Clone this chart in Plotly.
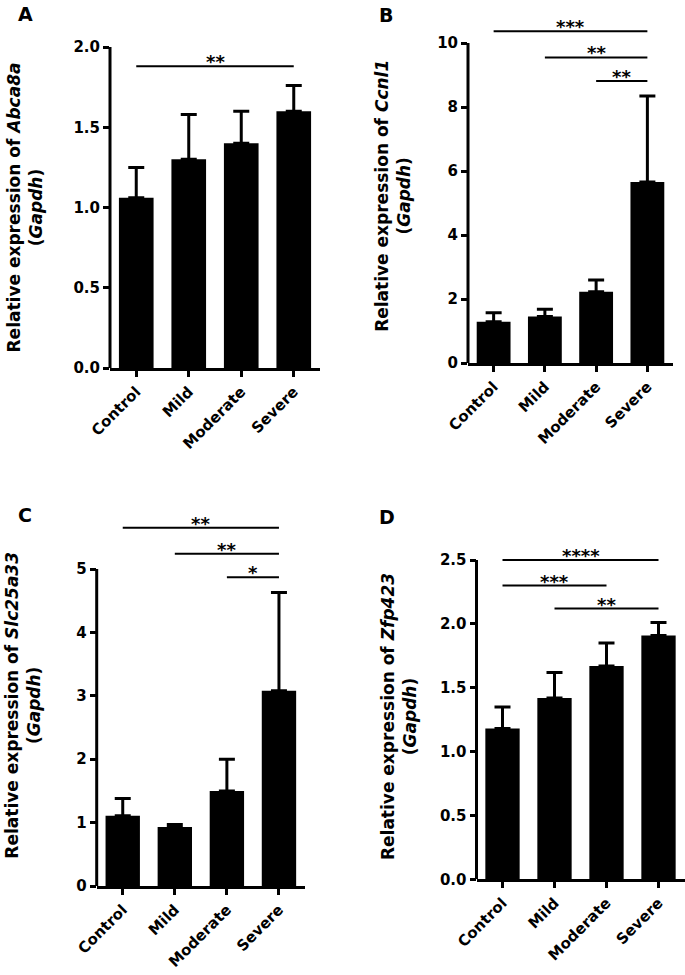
import plotly.graph_objects as go

categories = ["Control", "Mild", "Moderate", "Severe"]

# Panel A - Abca8a
a_mean = [1.06, 1.30, 1.40, 1.60]
a_sem = [0.19, 0.28, 0.20, 0.16]
a_sig_pairs = [(0, 3)]
a_sig_y = [1.88]
a_sig_text = ["**"]

# Panel B - Ccnl1
b_mean = [1.29, 1.45, 2.23, 5.66]
b_sem = [0.28, 0.23, 0.36, 2.68]
b_sig_pairs = [(0, 3), (1, 3), (2, 3)]
b_sig_y = [10.37, 9.55, 8.81]
b_sig_text = ["***", "**", "**"]

# Panel C - Slc25a33
c_mean = [1.11, 0.93, 1.50, 3.08]
c_sem = [0.27, 0.04, 0.50, 1.55]
c_sig_pairs = [(0, 3), (1, 3), (2, 3)]
c_sig_y = [5.65, 5.24, 4.87]
c_sig_text = ["**", "**", "*"]

# Panel D - Zfp423
d_mean = [1.18, 1.42, 1.67, 1.91]
d_sem = [0.17, 0.20, 0.18, 0.10]
d_sig_pairs = [(0, 3), (0, 2), (1, 3)]
d_sig_y = [2.50, 2.30, 2.12]
d_sig_text = ["****", "***", "**"]

genes = ["Abca8a", "Ccnl1", "Slc25a33", "Zfp423"]
panel_letters = ["A", "B", "C", "D"]
y_ticktop = [2.0, 10, 5, 2.5]          # last labelled tick (axis line ends here)
y_rangetop = [2.0, 10.45, 5.7, 2.55]   # room for significance bars
y_dticks = [0.5, 2, 1, 0.5]
y_formats = [".1f", "d", "d", ".1f"]

W, H = 685, 975
FONT = "DejaVu Sans"
YTICK_SIZE = 15
XTICK_SIZE = 15
TITLE_SIZE = 17

# layout geometry in pixels: (left, right, pixel of y=0, pixels per unit)
boxes = [(110, 320, 368, 160.5), (468, 673, 363, 32.0), (96.7, 305, 886, 63.4), (476.5, 684.5, 879.3, 127.7)]
standoffs = [26, 22, 31, 18]
letter_pos = [(16, 14), (377, 15), (16, 515), (377, 517)]

panels = [
    (a_mean, a_sem, a_sig_pairs, a_sig_y, a_sig_text),
    (b_mean, b_sem, b_sig_pairs, b_sig_y, b_sig_text),
    (c_mean, c_sem, c_sig_pairs, c_sig_y, c_sig_text),
    (d_mean, d_sem, d_sig_pairs, d_sig_y, d_sig_text),
]

fig = go.Figure()
annotations = []
shapes = []
layout_axes = {}

for k, (mean, sem, pairs, sig_y, sig_text) in enumerate(panels):
    n = k + 1
    xa = "x" if n == 1 else f"x{n}"
    ya = "y" if n == 1 else f"y{n}"
    fig.add_trace(go.Bar(
        x=categories, y=mean, xaxis=xa, yaxis=ya, width=0.66,
        marker=dict(color="black", line=dict(width=0)),
        error_y=dict(type="data", symmetric=False, array=sem, arrayminus=[0] * len(sem),
                     color="black", thickness=3, width=8),
        showlegend=False,
    ))
    for (i, j), yv, txt in zip(pairs, sig_y, sig_text):
        fig.add_trace(go.Scatter(
            x=[categories[i], categories[j]], y=[yv, yv], xaxis=xa, yaxis=ya,
            mode="lines", line=dict(color="black", width=2), cliponaxis=False,
            showlegend=False, hoverinfo="skip",
        ))
        annotations.append(dict(
            x=(i + j) / 2, y=yv, xref=xa, yref=ya, text=txt, showarrow=False,
            yanchor="bottom", yshift=-8, font=dict(family=FONT, size=18, color="black", weight="bold"),
        ))
    l, r, y0px, ppu = boxes[k]
    top_px = y0px - y_rangetop[k] * ppu
    key = "" if n == 1 else str(n)
    layout_axes["xaxis" + key] = dict(
        domain=[l / W, r / W], anchor=ya, type="category", range=[-0.5, 3.5],
        showline=True, linewidth=3, linecolor="black", ticks="outside", ticklen=6, tickwidth=3,
        tickcolor="black", tickangle=-45, showgrid=False, zeroline=False, automargin=False,
        tickfont=dict(family=FONT, size=XTICK_SIZE, color="black", weight="bold"),
    )
    layout_axes["yaxis" + key] = dict(
        domain=[1 - y0px / H, 1 - top_px / H], anchor=xa, range=[0, y_rangetop[k]],
        dtick=y_dticks[k], tickformat=y_formats[k], automargin=False,
        showline=False, ticks="outside", ticklen=6, tickwidth=3,
        tickcolor="black", showgrid=False, zeroline=False,
        tickfont=dict(family=FONT, size=YTICK_SIZE, color="black", weight="bold"),
        title=dict(text=f"Relative expression of <i>{genes[k]}</i><br>(<i>Gapdh</i>)",
                   font=dict(family=FONT, size=TITLE_SIZE, color="black", weight="bold"),
                   standoff=standoffs[k]),
    )
    # y axis line, ending at the top labelled tick
    shapes.append(dict(type="line", xref=f"{xa} domain", yref=ya, x0=0, x1=0,
                       y0=0, y1=y_ticktop[k], line=dict(color="black", width=3)))
    lx, ly = letter_pos[k]
    annotations.append(dict(
        x=lx / W, y=1 - ly / H, xref="paper", yref="paper", text=panel_letters[k],
        showarrow=False, xanchor="left", yanchor="middle",
        font=dict(family=FONT, size=19, color="black", weight="bold"),
    ))

fig.update_layout(
    width=W, height=H, margin=dict(l=0, r=0, t=0, b=0, pad=0, autoexpand=False),
    paper_bgcolor="white", plot_bgcolor="white",
    font=dict(family=FONT, color="black"),
    annotations=annotations, shapes=shapes, bargap=0.34,
    **layout_axes,
)

fig.write_html("out.html", config={"displayModeBar": False},
               post_script="document.body.style.margin='0';")
